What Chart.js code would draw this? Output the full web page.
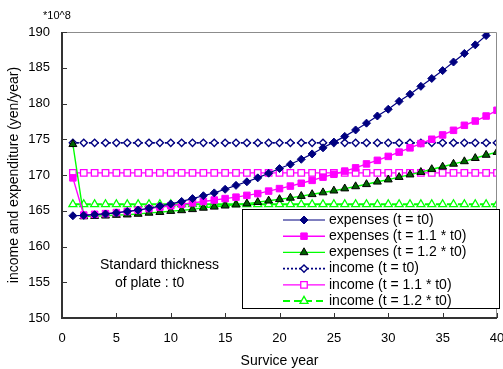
<!DOCTYPE html>
<html>
<head>
<meta charset="utf-8">
<script src="https://cdn.jsdelivr.net/npm/chart.js@4.4.0/dist/chart.umd.min.js"></script>
<style>
  html, body { margin: 0; padding: 0; background: #fff; }
  #wrap { width: 503px; height: 369px; position: relative; }
</style>
</head>
<body>
<div id="wrap"><canvas id="c" width="503" height="369"></canvas></div>
<script>
// Service years (x) and annual amounts in units of 10^8 yen (y)
const years = [1, 2, 3, 4, 5, 6, 7, 8, 9, 10, 11, 12, 13, 14, 15, 16, 17, 18, 19, 20,
               21, 22, 23, 24, 25, 26, 27, 28, 29, 30, 31, 32, 33, 34, 35, 36, 37, 38, 39, 40];

const expensesT0 = [164.3, 164.35, 164.45, 164.55, 164.7, 164.9, 165.1, 165.35, 165.65, 165.95,
                    166.3, 166.7, 167.1, 167.5, 168.0, 168.55, 169.05, 169.6, 170.25, 170.9,
                    171.5, 172.2, 172.95, 173.8, 174.6, 175.4, 176.3, 177.25, 178.25, 179.2,
                    180.3, 181.3, 182.4, 183.5, 184.6, 185.8, 187.0, 188.2, 189.5, 190.85];

const expensesT11 = [169.6, 164.4, 164.5, 164.6, 164.75, 164.9, 165.1, 165.3, 165.5, 165.7,
                     165.9, 166.1, 166.3, 166.5, 166.7, 166.9, 167.15, 167.4, 167.75, 168.1,
                     168.45, 168.85, 169.25, 169.7, 170.1, 170.55, 171.0, 171.55, 172.05, 172.6,
                     173.2, 173.8, 174.4, 175.0, 175.6, 176.25, 176.95, 177.55, 178.25, 179.05];

const expensesT12 = [174.3, 164.2, 164.25, 164.3, 164.4, 164.45, 164.55, 164.7, 164.8, 164.95,
                     165.05, 165.2, 165.4, 165.55, 165.7, 165.85, 166.0, 166.2, 166.4, 166.6,
                     166.8, 167.05, 167.3, 167.55, 167.8, 168.1, 168.4, 168.7, 169.05, 169.35,
                     169.7, 170.05, 170.4, 170.8, 171.15, 171.55, 171.9, 172.35, 172.8, 173.2];

const incomeT0 = [174.5, 174.5, 174.5, 174.5, 174.5, 174.5, 174.5, 174.5, 174.5, 174.5,
                  174.5, 174.5, 174.5, 174.5, 174.5, 174.5, 174.5, 174.5, 174.5, 174.5,
                  174.5, 174.5, 174.5, 174.5, 174.5, 174.5, 174.5, 174.5, 174.5, 174.5,
                  174.5, 174.5, 174.5, 174.5, 174.5, 174.5, 174.5, 174.5, 174.5, 174.5];

const incomeT11 = [170.3, 170.3, 170.3, 170.3, 170.3, 170.3, 170.3, 170.3, 170.3, 170.3,
                   170.3, 170.3, 170.3, 170.3, 170.3, 170.3, 170.3, 170.3, 170.3, 170.3,
                   170.3, 170.3, 170.3, 170.3, 170.3, 170.3, 170.3, 170.3, 170.3, 170.3,
                   170.3, 170.3, 170.3, 170.3, 170.3, 170.3, 170.3, 170.3, 170.3, 170.3];

const incomeT12 = [165.9, 165.9, 165.9, 165.9, 165.9, 165.9, 165.9, 165.9, 165.9, 165.9,
                   165.9, 165.9, 165.9, 165.9, 165.9, 165.9, 165.9, 165.9, 165.9, 165.9,
                   165.9, 165.9, 165.9, 165.9, 165.9, 165.9, 165.9, 165.9, 165.9, 165.9,
                   165.9, 165.9, 165.9, 165.9, 165.9, 165.9, 165.9, 165.9, 165.9, 165.9];

const seriesNames = ['expenses (t = t0)', 'expenses (t = 1.1 * t0)', 'expenses (t = 1.2 * t0)',
                     'income (t = t0)', 'income (t = 1.1 * t0)', 'income (t = 1.2 * t0)'];

const xTicks = [0, 5, 10, 15, 20, 25, 30, 35, 40];
const yTicks = [150, 155, 160, 165, 170, 175, 180, 185, 190];

const FONT = '"Liberation Sans", Arial, sans-serif';
const NAVY = '#000080', MAGENTA = '#FF00FF', LIME = '#00FF00', DKGREEN = '#006400';

function pts(values) {
  return years.map((yr, i) => ({ x: yr, y: values[i] }));
}

const datasets = [
  { label: seriesNames[0], data: pts(expensesT0), borderColor: NAVY, borderWidth: 1.2,
    pointStyle: 'rectRot', pointRadius: 4, pointBackgroundColor: NAVY, pointBorderColor: NAVY, pointBorderWidth: 1 },
  { label: seriesNames[1], data: pts(expensesT11), borderColor: MAGENTA, borderWidth: 1.4,
    pointStyle: 'rect', pointRadius: 4.6, pointBackgroundColor: MAGENTA, pointBorderColor: MAGENTA, pointBorderWidth: 1 },
  { label: seriesNames[2], data: pts(expensesT12), borderColor: LIME, borderWidth: 1.4,
    pointStyle: 'triangle', pointRadius: 4.6, pointBackgroundColor: DKGREEN, pointBorderColor: '#000', pointBorderWidth: 1 },
  { label: seriesNames[3], data: pts(incomeT0), borderColor: NAVY, borderWidth: 1.6, borderDash: [2, 2],
    pointStyle: 'rectRot', pointRadius: 3.6, pointBackgroundColor: '#fff', pointBorderColor: NAVY, pointBorderWidth: 1.4 },
  { label: seriesNames[4], data: pts(incomeT11), borderColor: MAGENTA, borderWidth: 1.2,
    pointStyle: 'rect', pointRadius: 4.6, pointBackgroundColor: '#fff', pointBorderColor: MAGENTA, pointBorderWidth: 1.3 },
  { label: seriesNames[5], data: pts(incomeT12), borderColor: LIME, borderWidth: 2, borderDash: [7, 4],
    pointStyle: 'triangle', pointRadius: 4.6, pointBackgroundColor: '#fff', pointBorderColor: LIME, pointBorderWidth: 1.3 }
];
datasets.forEach(d => { d.tension = 0; d.fill = false; d.pointHoverRadius = d.pointRadius; });

// Frame, inward ticks, axis titles, note and the boxed legend
const decorations = {
  id: 'decorations',
  afterDraw(chart) {
    const ctx = chart.ctx;
    const a = chart.chartArea;
    const xs = chart.scales.x, ys = chart.scales.y;
    ctx.save();

    // top and right frame
    ctx.strokeStyle = '#8c8c8c';
    ctx.lineWidth = 1;
    ctx.beginPath();
    ctx.moveTo(a.left, a.top + 0.5); ctx.lineTo(a.right - 0.5, a.top + 0.5); ctx.lineTo(a.right - 0.5, a.bottom);
    ctx.stroke();

    // axes
    ctx.strokeStyle = '#333';
    ctx.lineWidth = 2;
    ctx.beginPath();
    ctx.moveTo(a.left, a.top); ctx.lineTo(a.left, a.bottom); ctx.lineTo(a.right, a.bottom);
    ctx.stroke();

    // inward tick marks
    ctx.lineWidth = 1;
    ctx.beginPath();
    xTicks.forEach(v => {
      const px = Math.round(xs.getPixelForValue(v)) + 0.5;
      ctx.moveTo(px, a.bottom); ctx.lineTo(px, a.bottom - 5);
    });
    yTicks.forEach(v => {
      const py = Math.round(ys.getPixelForValue(v)) + 0.5;
      ctx.moveTo(a.left, py); ctx.lineTo(a.left + 5, py);
    });
    ctx.stroke();

    ctx.fillStyle = '#000';
    // unit label
    ctx.font = '11px ' + FONT;
    ctx.textAlign = 'left'; ctx.textBaseline = 'middle';
    ctx.fillText('*10^8', 43, 16);

    // axis titles
    ctx.font = '14px ' + FONT;
    ctx.textAlign = 'center';
    ctx.fillText('Survice year', (a.left + a.right) / 2, 361);
    ctx.save();
    ctx.translate(14, (a.top + a.bottom) / 2);
    ctx.rotate(-Math.PI / 2);
    ctx.fillText('income and expenditure (yen/year)', 0, 0);
    ctx.restore();

    // note
    ctx.textAlign = 'left';
    ctx.fillText('Standard thickness', 100, 265);
    ctx.fillText('of plate : t0', 115, 283);

    // legend box
    const L = { left: 242, top: 209, right: 500, bottom: 309 };
    ctx.fillStyle = '#fff';
    ctx.fillRect(L.left, L.top, L.right - L.left, L.bottom - L.top);
    ctx.strokeStyle = '#000';
    ctx.lineWidth = 1;
    ctx.strokeRect(L.left + 0.5, L.top + 0.5, L.right - L.left - 1, L.bottom - L.top - 1);

    const rowY = [220, 236.2, 252.4, 268.6, 284.8, 301];
    chart.data.datasets.forEach((d, i) => {
      const y = rowY[i];
      ctx.save();
      ctx.strokeStyle = d.borderColor;
      ctx.lineWidth = d.borderWidth;
      ctx.setLineDash(d.borderDash || []);
      ctx.beginPath();
      ctx.moveTo(283, y); ctx.lineTo(325, y);
      ctx.stroke();
      ctx.setLineDash([]);
      ctx.fillStyle = d.pointBackgroundColor;
      ctx.strokeStyle = d.pointBorderColor;
      ctx.lineWidth = d.pointBorderWidth;
      Chart.helpers.drawPoint(ctx, { pointStyle: d.pointStyle, radius: d.pointRadius, rotation: 0, borderWidth: d.pointBorderWidth }, 304, y);
      ctx.restore();
      ctx.fillStyle = '#000';
      ctx.font = '14px ' + FONT;
      ctx.textAlign = 'left'; ctx.textBaseline = 'middle';
      ctx.fillText(d.label, 329, y);
    });

    ctx.restore();
  }
};

new Chart(document.getElementById('c'), {
  type: 'line',
  data: { datasets },
  options: {
    responsive: false,
    animation: false,
    devicePixelRatio: 1,
    layout: { padding: { left: 0, right: 6, top: 32, bottom: 0 } },
    plugins: { legend: { display: false }, tooltip: { enabled: false } },
    scales: {
      x: {
        type: 'linear', min: 0, max: 40,
        afterBuildTicks: s => { s.ticks = xTicks.map(v => ({ value: v })); },
        ticks: { color: '#000', font: { family: FONT, size: 13 }, padding: 13, maxRotation: 0, autoSkip: false },
        grid: { display: false, drawTicks: false },
        border: { display: false },
        afterFit: s => { s.height = 51; s.paddingLeft = 0; s.paddingRight = 0; }
      },
      y: {
        type: 'linear', min: 150, max: 190,
        afterBuildTicks: s => { s.ticks = yTicks.map(v => ({ value: v })); },
        ticks: { color: '#000', font: { family: FONT, size: 13 }, padding: 12, autoSkip: false },
        grid: { display: false, drawTicks: false },
        border: { display: false },
        afterFit: s => { s.width = 62; s.paddingTop = 0; s.paddingBottom = 0; }
      }
    }
  },
  plugins: [decorations]
});
</script>
</body>
</html>
